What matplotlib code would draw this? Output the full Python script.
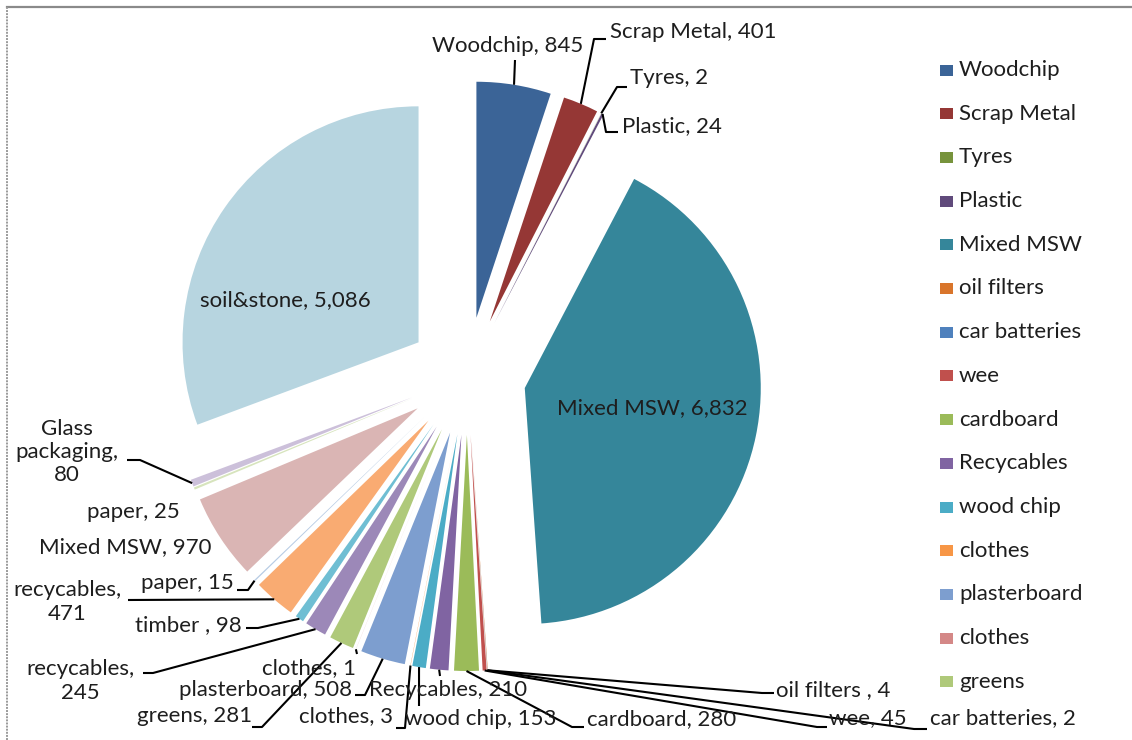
import numpy as np
import matplotlib.pyplot as plt
from matplotlib.patches import Rectangle
from matplotlib.lines import Line2D

plt.rcParams['font.family'] = ['Lato', 'DejaVu Sans']

# waste streams, in sheet order (clockwise from 12 o'clock)
names = ['Woodchip', 'Scrap Metal', 'Tyres', 'Plastic', 'Mixed MSW', 'oil filters',
         'car batteries', 'wee', 'cardboard', 'Recycables', 'wood chip', 'clothes',
         'plasterboard', 'clothes', 'greens', 'recycables', 'timber', 'recyclables',
         'paper', 'Mixed MSW', 'paper', 'Glass packaging', 'soil&stone']
values = [845, 401, 2, 24, 6832, 4, 2, 45, 280, 210, 153, 3,
          508, 1, 281, 245, 98, 471, 15, 970, 25, 80, 5086]
labels = ['Woodchip, 845', 'Scrap Metal, 401', 'Tyres, 2', 'Plastic, 24',
          'Mixed MSW, 6,832', 'oil filters , 4', 'car batteries, 2', 'wee, 45',
          'cardboard, 280', 'Recycables, 210', 'wood chip, 153', 'clothes, 3',
          'plasterboard, 508', 'clothes, 1', 'greens, 281', 'recycables,\n245',
          'timber , 98', 'recycables,\n471', 'paper, 15', 'Mixed MSW, 970',
          'paper, 25', 'Glass\npackaging,\n80', 'soil&stone, 5,086']
colors = ['#3B6497', '#953735', '#77933C', '#604A7B', '#35869A', '#D9752B',
          '#4F81BD', '#C0504D', '#9BBB59', '#8064A2', '#4BACC6', '#F79646',
          '#7D9ECF', '#D48887', '#AFC97A', '#9C88B8', '#6FBED3', '#F9AB72',
          '#B8CCE4', '#DAB5B4', '#D7E4BD', '#CCC0DA', '#B7D5E0']
n_legend = 15

W, H = 1132, 740
fig = plt.figure(figsize=(W / 100, H / 100), dpi=100)
ax = fig.add_axes([0, 0, 1, 1])


def px(x, y):
    # screen pixel (top-left origin) -> data coords
    return x, H - y


R = 236
cx, cy = px(467, 376)
wedges, _ = ax.pie(values, colors=colors, startangle=90, counterclock=False,
                   radius=R, center=(cx, cy), explode=[59] * len(values),
                   wedgeprops=dict(linewidth=0))

# label layout: (x, y, ha, leader waypoints) in screen pixels
layout = [
    (508, 46, 'center', [(515, 60)]),
    (610, 32, 'left', [(594, 39), (606, 39)]),
    (630, 78, 'left', [(617, 87), (627, 87)]),
    (622, 126, 'left', [(606, 132), (618, 132)]),
    (652, 408, 'center', None),
    (776, 690, 'left', [(762, 693), (774, 693)]),
    (930, 718, 'left', [(914, 729), (927, 729)]),
    (829, 718, 'left', [(817, 727), (827, 727)]),
    (587, 719, 'left', [(572, 727), (584, 727)]),
    (448, 690, 'center', [(440, 676)]),
    (405, 719, 'left', [(419, 706)]),
    (393, 716, 'right', [(405, 728), (396, 728)]),
    (352, 690, 'right', [(365, 695), (355, 695)]),
    (356, 668, 'right', [(357, 654)]),
    (252, 716, 'right', [(262, 727), (252, 727)]),
    (80, 681, 'center', [(153, 673), (143, 673)]),
    (242, 625, 'right', [(258, 628), (246, 628)]),
    (67, 602, 'center', [(128, 600)]),
    (234, 583, 'right', [(248, 590), (237, 590)]),
    (125, 547, 'center', None),
    (133, 512, 'center', None),
    (67, 452, 'center', [(140, 460), (127, 460)]),
    (285, 300, 'center', None),
]

txt_kw = dict(fontsize=16, color='#1e1e1e')
for w, lab, (tx, ty, ha, path) in zip(wedges, labels, layout):
    ax.text(*px(tx, ty), lab, ha=ha, va='center', linespacing=1.2, **txt_kw)
    if path is None:
        continue
    # leader starts on the middle of the slice's outer arc
    mid = np.deg2rad(0.5 * (w.theta1 + w.theta2))
    ax_, ay_ = w.center[0] + w.r * np.cos(mid), w.center[1] + w.r * np.sin(mid)
    xs = [ax_] + [px(p[0], p[1])[0] for p in path]
    ys = [ay_] + [px(p[0], p[1])[1] for p in path]
    ax.plot(xs, ys, color='black', lw=1.5, solid_capstyle='butt')

# legend (first 15 entries, as in the sheet)
for i in range(n_legend):
    yy = 70 + i * 43.7
    ax.add_patch(Rectangle(px(940, yy + 5.5), 13, 11, color=colors[i], lw=0))
    ax.text(*px(959, yy), names[i], ha='left', va='center', **txt_kw)

# chart area border (top and left edges visible)
fig.add_artist(Line2D([7 / W, 1], [1 - 7 / H, 1 - 7 / H], color='#8a8a8a', lw=1.6))
fig.add_artist(Line2D([7 / W, 7 / W], [0, 1 - 7 / H], color='#9a9a9a', lw=1.4,
                      linestyle=(0, (1, 0.6))))

ax.set_xlim(0, W)
ax.set_ylim(0, H)
ax.set_aspect('auto')
ax.axis('off')

fig.savefig('out.png', dpi=100, facecolor='white')
